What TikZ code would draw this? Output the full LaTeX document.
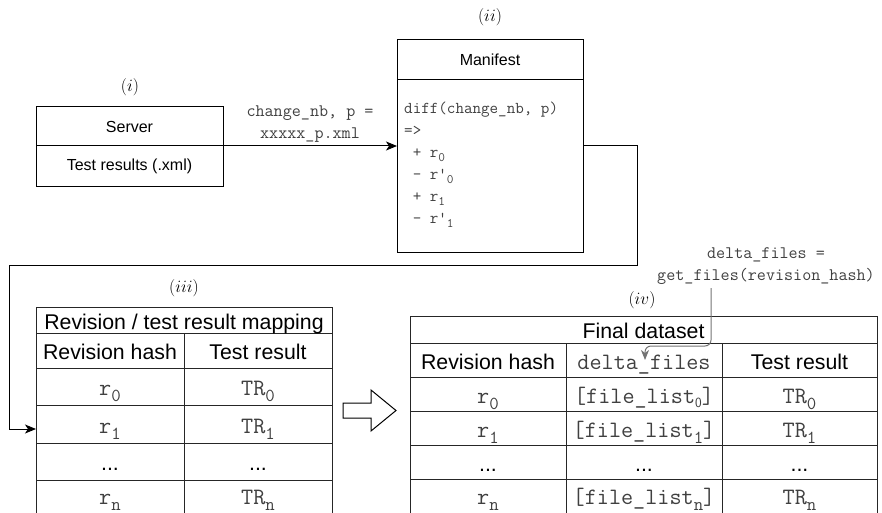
\documentclass[tikz,border=0pt]{standalone}
\usepackage{fontspec}
\setmainfont{Liberation Sans}
\usetikzlibrary{arrows.meta}

% lowered, smaller index after a code token
\newcommand{\ix}[1]{\raisebox{-0.26em}{\scalebox{0.78}{#1}}}
\newcommand{\ixs}[1]{\raisebox{-0.2em}{\scalebox{0.6}{\sffamily #1}}}

\begin{document}
\begin{tikzpicture}[x=1pt,y=-1pt,
  box/.style={draw=black,line width=1pt,outer sep=0pt,inner sep=0pt,anchor=north west},
  sanslbl/.style={font=\fontsize{16}{19}\selectfont},
  code/.style={font=\ttfamily\fontsize{16.6}{24}\selectfont,text=black!75,inner sep=0pt},
  edgetxt/.style={code,font=\ttfamily\fontsize{17.6}{22}\selectfont,align=center},
  tag/.style={font=\fontsize{17.5}{20}\selectfont,inner sep=0pt},
  tbl/.style={draw=black!85,line width=1pt},
  cell/.style={inner sep=0pt,text height=20pt,text depth=2pt,font=\fontsize{21.3}{25}\selectfont},
  ccell/.style={cell,font=\ttfamily\fontsize{23.5}{25}\selectfont,text=black!75},
  link/.style={line width=1pt,-{Stealth[length=11pt,width=9pt,inset=3pt]}},
  glink/.style={draw=black!55,line width=1pt,rounded corners=6pt,-{Stealth[length=10pt,width=8pt,inset=3pt]}}
]
\useasboundingbox (0,0) rectangle (882,513);
\clip (0,0) rectangle (882,513);

% ---------- (i) server ----------
\node[tag] (ti) at (130,87) {$(i)$};
\node[box,sanslbl,minimum width=187pt,minimum height=39pt] (srvhead) at (36,107) {Server};
\node[box,sanslbl,minimum width=187pt,minimum height=40pt] (srvbody) at (36,146) {Test results (.xml)};

% ---------- (ii) manifest ----------
\node[tag] (tii) at (490,17) {$(ii)$};
\node[box,sanslbl,minimum width=186pt,minimum height=40pt] (manhead) at (397,40) {Manifest};
\node[box,minimum width=186pt,minimum height=172pt] (manbody) at (397,80) {};
\node[code,anchor=base west] (m1) at (404,114) {diff(change\_nb, p)};
\node[code,anchor=base west] (m2) at (404,135.8) {=>};
\node[code,anchor=base west] (m3) at (404,157.6) {\ + r\ix{0}};
\node[code,anchor=base west] (m4) at (404,179.4) {\ - r\textquotesingle\ix{0}};
\node[code,anchor=base west] (m5) at (404,201.2) {\ + r\ix{1}};
\node[code,anchor=base west] (m6) at (404,223) {\ - r\textquotesingle\ix{1}};

% server -> manifest
\node[edgetxt] (lbl1) at (310,124) {change\_nb, p =\\xxxxx\_p.xml};
\draw[link] (srvbody.north east) -- (srvbody.north east -| manbody.west);

% ---------- (iii) revision / test result mapping ----------
\node[tag] (tiii) at (184,288) {$(iii)$};
\draw[tbl] (36,520) -- (36,307) -- (332,307) -- (332,520);
\draw[tbl] (184,333) -- (184,520);
\foreach \yy in {333,368,405,443,480} \draw[tbl] (36,\yy) -- (332,\yy);
\node[cell] (h3t) at (184,320) {Revision / test result mapping};
\node[cell] (h3a) at (110,350.5) {Revision hash};
\node[cell] (h3b) at (258,350.5) {Test result};
\node[ccell] (a30) at (110,386.5) {r\ix{0}};
\node[ccell] (b30) at (258,386.5) {TR\ix{0}};
\node[ccell] (a31) at (110,424) {r\ix{1}};
\node[ccell] (b31) at (258,424) {TR\ix{1}};
\node[cell] (a32) at (110,461.5) {...};
\node[cell] (b32) at (258,461.5) {...};
\node[ccell] (a33) at (110,495.5) {r\ix{n}};
\node[ccell] (b33) at (258,495.5) {TR\ix{n}};

% manifest -> mapping table
\coordinate (entry) at (36,429);
\draw[link] (srvbody.north east -| manbody.east) -- (637,146) -- (637,265) -- (9,265) -- (9,429) -- (entry);

% ---------- hollow transition arrow ----------
\draw[line width=1pt,fill=white] (343,403) -- (371,403) -- (371,390) -- (396,410.5)
  -- (371,431) -- (371,418) -- (343,418) -- cycle;

% ---------- (iv) final dataset ----------
\node[tag] (tiv) at (642,300) {$(iv)$};
\draw[tbl] (410,520) -- (410,316) -- (877,316) -- (877,520);
\draw[tbl] (566,343) -- (566,520);
\draw[tbl] (722,343) -- (722,520);
\foreach \yy in {343,377,411,445,479} \draw[tbl] (410,\yy) -- (877,\yy);
\node[cell] (h4t) at (643.5,329.5) {Final dataset};
\node[cell] (h4a) at (488,360) {Revision hash};
\node[ccell] (h4b) at (644,360) {delta\_files};
\node[cell] (h4c) at (799.5,360) {Test result};
\node[ccell] (a40) at (488,394) {r\ix{0}};
\node[ccell] (b40) at (644,394) {[file\_list\ixs{0}]};
\node[ccell] (c40) at (799.5,394) {TR\ix{0}};
\node[ccell] (a41) at (488,428) {r\ix{1}};
\node[ccell] (b41) at (644,428) {[file\_list\ix{1}]};
\node[ccell] (c41) at (799.5,428) {TR\ix{1}};
\node[cell] (a42) at (488,462) {...};
\node[cell] (b42) at (644,462) {...};
\node[cell] (c42) at (799.5,462) {...};
\node[ccell] (a43) at (488,495) {r\ix{n}};
\node[ccell] (b43) at (644,495) {[file\_list\ix{n}]};
\node[ccell] (c43) at (799.5,495) {TR\ix{n}};

% revision hash -> delta files
\node[edgetxt] (lbl2) at (766,266) {delta\_files =\\get\_files(revision\_hash)};
\coordinate (gtop) at (711,288);
\coordinate (gtip) at (645,360);
\draw[glink] (gtop) -- (711,346) -- (645,346) -- (gtip);
\end{tikzpicture}
\end{document}
